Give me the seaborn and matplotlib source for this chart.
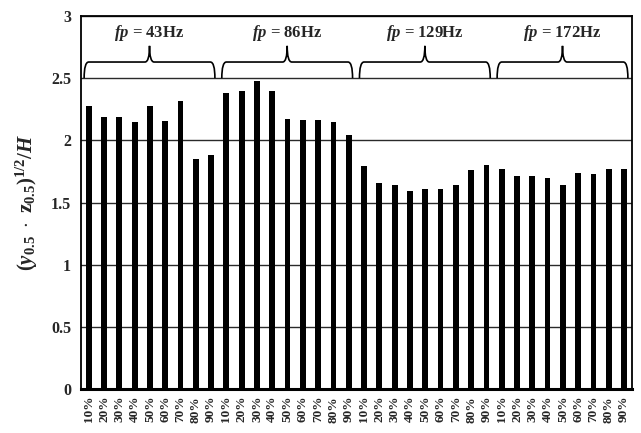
import numpy as np
import pandas as pd
import matplotlib
matplotlib.use("Agg")
import matplotlib.pyplot as plt
from matplotlib.path import Path
from matplotlib.patches import PathPatch
import seaborn as sns

# ---- data ----
groups = ["43Hz", "86Hz", "129Hz", "172Hz"]
pct_labels = ["10%", "20%", "30%", "40%", "50%", "60%", "70%", "80%", "90%"]
vals_43 = [2.28, 2.19, 2.19, 2.15, 2.28, 2.155, 2.32, 1.85, 1.88]
vals_86 = [2.38, 2.40, 2.48, 2.40, 2.17, 2.165, 2.165, 2.15, 2.04]
vals_129 = [1.79, 1.66, 1.64, 1.59, 1.61, 1.61, 1.64, 1.76, 1.80]
vals_172 = [1.77, 1.71, 1.71, 1.70, 1.64, 1.74, 1.73, 1.77, 1.77]
all_vals = [vals_43, vals_86, vals_129, vals_172]

rows = []
for g, vals in zip(groups, all_vals):
    for p, v in zip(pct_labels, vals):
        rows.append({"key": f"{g} {p}", "group": g, "pct": p, "value": v})
df = pd.DataFrame(rows)

sns.set_theme(style="white")
plt.rcParams["font.family"] = ["Liberation Serif", "DejaVu Serif"]
plt.rcParams["font.weight"] = "bold"
plt.rcParams["mathtext.fontset"] = "custom"
plt.rcParams["mathtext.rm"] = "Liberation Serif:bold"
plt.rcParams["mathtext.bf"] = "Liberation Serif:bold"
plt.rcParams["mathtext.it"] = "Liberation Serif:italic:bold"

fig = plt.figure(figsize=(6.41, 4.33), dpi=100)
ax = fig.add_axes([0.126, 0.1016, 0.86, 0.8614])

sns.barplot(data=df, x="key", y="value", order=list(df["key"]), color="black",
            width=0.38, saturation=1, linewidth=0, edgecolor="black", ax=ax, zorder=3)

ax.set_xlim(-0.52, len(df) - 0.48)
ax.set_ylim(0, 3)
ax.set_yticks(np.arange(0, 3.01, 0.5))
ax.set_yticklabels(["0", "0.5", "1", "1.5", "2", "2.5", "3"], fontsize=11.5, fontweight="bold")
ax.set_xticks(range(len(df)))
ax.set_xticklabels(list(df["pct"]), rotation=90, fontsize=9.5, fontweight="bold")
ax.tick_params(axis="x", length=0, pad=5)
ax.tick_params(axis="y", length=0, pad=7)
ax.set_xlabel("")
ax.set_ylabel(r"$(y_{0.5}\ \cdot\ \mathrm{z}_{0.5})^{1/2}/H$", fontsize=15, labelpad=8)

ax.set_axisbelow(True)
ax.yaxis.grid(True, color="#2a2a2a", lw=1.0, linestyle="-")
ax.xaxis.grid(False)

for s in ["left", "right", "top"]:
    ax.spines[s].set_visible(True)
    ax.spines[s].set_color("black")
    ax.spines[s].set_linewidth(1.3)
ax.spines["bottom"].set_color("black")
ax.spines["bottom"].set_linewidth(2.2)
ax.spines["bottom"].set_zorder(5)

# ---- braces with group labels ----
yb, yh, yt = 2.5, 2.63, 2.76
r = 0.3
n = len(pct_labels)
for i, g in enumerate(groups):
    x0 = i * n - 0.3
    x1 = i * n + n - 0.75
    xm = (x0 + x1) / 2
    verts = [(x0, yb), (x0, yh), (x0 + r, yh),
             (xm - r, yh), (xm, yh), (xm, yt),
             (xm, yh), (xm + r, yh),
             (x1 - r, yh), (x1, yh), (x1, yb)]
    codes = [Path.MOVETO, Path.CURVE3, Path.CURVE3,
             Path.LINETO, Path.CURVE3, Path.CURVE3,
             Path.CURVE3, Path.CURVE3,
             Path.LINETO, Path.CURVE3, Path.CURVE3]
    ax.add_patch(PathPatch(Path(verts, codes), fill=False, lw=1.2,
                           edgecolor="black", zorder=4))
    ax.text(xm, 2.865, r"$fp$ = " + g, ha="center", va="center",
            fontsize=12, fontweight="bold")

fig.savefig("out.png", dpi=100)
